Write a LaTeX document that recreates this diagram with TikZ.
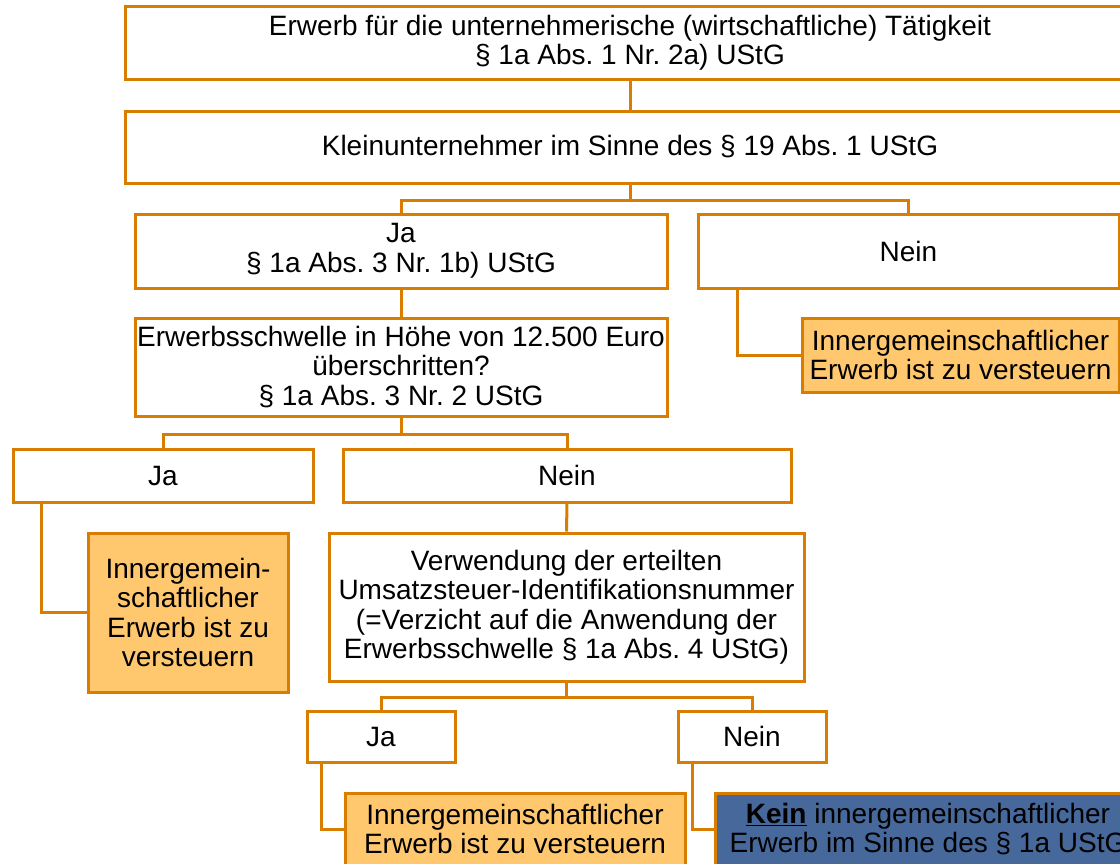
\documentclass[tikz,border=0pt]{standalone}
\usepackage{fontspec}
\setmainfont{Liberation Sans}
\frenchspacing
\definecolor{boxline}{RGB}{217,125,0}
\definecolor{boxfill}{RGB}{255,200,110}
\definecolor{keinfill}{RGB}{70,104,155}
\tikzset{
  box/.style={draw=boxline,line width=3pt,fill=white,inner sep=0pt,align=center,
    font=\fontsize{28}{29.5}\selectfont},
  result/.style={box,fill=boxfill},
  keinbox/.style={box,fill=keinfill},
  link/.style={draw=boxline,line width=3pt}
}
\begin{document}
\begin{tikzpicture}[x=1pt,y=-1pt]
\useasboundingbox (0,0) rectangle (1120,863);
\clip (0,0) rectangle (1120,863);
\node[box,minimum width=1010,minimum height=73] (erwerb) at (630,42.5)
 {Erwerb für die unternehmerische (wirtschaftliche) Tätigkeit\\ § 1a Abs. 1 Nr. 2a) UStG};
\node[box,minimum width=1010,minimum height=72] (klein) at (630,147)
 {Kleinunternehmer im Sinne des § 19 Abs. 1 UStG};
\node[box,minimum width=532,minimum height=74] (ja1) at (401,251)
 {Ja\\ § 1a Abs. 3 Nr. 1b) UStG};
\node[box,minimum width=421,minimum height=74] (nein1) at (908.5,251) {Nein};
\node[result,minimum width=317,minimum height=74] (ie1) at (960.5,355)
 {Innergemeinschaftlicher\\ Erwerb ist zu versteuern};
\node[box,minimum width=532,minimum height=98] (schwelle) at (401,367)
 {Erwerbsschwelle in Höhe von 12.500 Euro\\ überschritten?\\ § 1a Abs. 3 Nr. 2 UStG};
\node[box,minimum width=300,minimum height=53] (ja2) at (163,475.5) {Ja};
\node[box,minimum width=448,minimum height=53] (nein2) at (567,475.5) {Nein};
\node[result,minimum width=200,minimum height=159] (ie2) at (188,612.5)
 {Innergemein-\\ schaftlicher\\ Erwerb ist zu\\ versteuern};
\node[box,minimum width=475,minimum height=148] (verw) at (566.5,607)
 {Verwendung der erteilten\\ Umsatzsteuer-Identifikationsnummer\\ (=Verzicht auf die Anwendung der\\ Erwerbsschwelle § 1a Abs. 4 UStG)};
\node[box,minimum width=148,minimum height=51] (ja3) at (381,736.5) {Ja};
\node[box,minimum width=148,minimum height=51] (nein3) at (752,736.5) {Nein};
\node[result,minimum width=340,minimum height=72] (ie3) at (515,829)
 {Innergemeinschaftlicher\\ Erwerb ist zu versteuern};
\node[keinbox,minimum width=426,minimum height=72] (kein) at (928,829)
 {\underline{\textbf{Kein}} innergemeinschaftlicher\\ Erwerb im Sinne des § 1a UStG};

\draw[link] (erwerb.south) -- (klein.north);
\draw[link] (klein.south) -- ++(0,16) -| (ja1.north);
\draw[link] (klein.south) -- ++(0,16) -| (nein1.north);
\draw[link] ([xshift=41pt]nein1.south west) |- (ie1.west);
\draw[link] (ja1.south) -- (schwelle.north);
\draw[link] (schwelle.south) -- ++(0,17) -| (ja2.north);
\draw[link] (schwelle.south) -- ++(0,17) -| (nein2.north);
\draw[link] ([xshift=30pt]ja2.south west) |- (ie2.west);
\draw[link] (nein2.south) -- (verw.north);
\draw[link] (verw.south) -- ++(0,15) -| (ja3.north);
\draw[link] (verw.south) -- ++(0,15) -| (nein3.north);
\draw[link] ([xshift=16pt]ja3.south west) |- (ie3.west);
\draw[link] ([xshift=16pt]nein3.south west) |- (kein.west);
\end{tikzpicture}
\end{document}
